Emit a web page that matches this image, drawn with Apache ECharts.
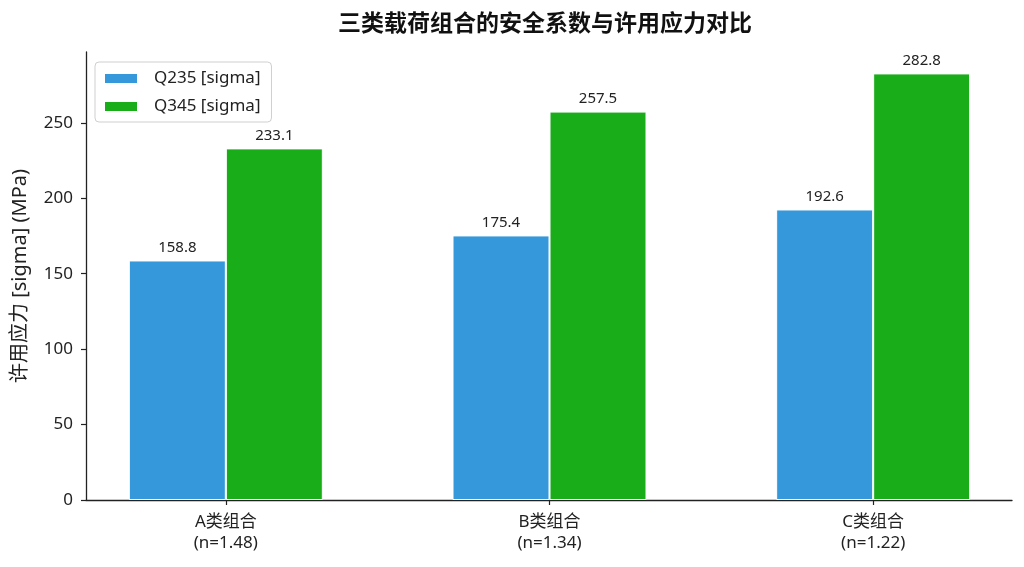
<!DOCTYPE html>
<html>
<head>
<meta charset="utf-8">
<script src="https://cdn.jsdelivr.net/npm/echarts@6/dist/echarts.min.js"></script>
<style>
html,body{margin:0;padding:0;background:#fff;overflow:hidden;width:1024px;height:567px;}
#main{width:1060px;height:567px;}
</style>
</head>
<body>
<div id="main"></div>
<script>
var categories = ['A类组合\n(n=1.48)', 'B类组合\n(n=1.34)', 'C类组合\n(n=1.22)'];
var seriesNames = ['Q235 [sigma]', 'Q345 [sigma]'];
var q235Values = [158.8, 175.4, 192.6];
var q345Values = [233.1, 257.5, 282.8];
var yTicks = [0, 50, 100, 150, 200, 250];
var yMax = 297;

var FONT = '"Noto Sans", "Noto Sans CJK SC", sans-serif';
var TXT = '#222';

var chart = echarts.init(document.getElementById('main'), null, {renderer: 'canvas'});
chart.setOption({
  backgroundColor: '#fff',
  animation: false,
  textStyle: {fontFamily: FONT},
  title: {
    text: '三类载荷组合的安全系数与许用应力对比',
    left: 338, top: 13, padding: 0,
    textStyle: {fontFamily: FONT, fontSize: 23, fontWeight: 'bold', color: '#111'}
  },
  legend: {
    orient: 'vertical',
    left: 95, top: 62,
    padding: [8, 11, 7, 8],
    icon: 'rect',
    itemWidth: 34, itemHeight: 11, itemGap: 11,
    borderColor: '#cfcfcf', borderWidth: 1, borderRadius: 4,
    backgroundColor: 'rgba(255,255,255,0.8)',
    textStyle: {fontFamily: FONT, fontSize: 17, color: TXT, lineHeight: 17, padding: [0, 0, 0, 11]},
    data: seriesNames
  },
  grid: [
    {left: 64, width: 971, top: 52, bottom: 67, containLabel: false},
    {left: 86, width: 926, top: 52, bottom: 67, containLabel: false}
  ],
  xAxis: [
    {
      type: 'category', gridIndex: 0, data: categories,
      axisLine: {show: false},
      axisTick: {show: true, alignWithLabel: true, length: 5, lineStyle: {color: TXT, width: 1.2}},
      axisLabel: {fontFamily: FONT, fontSize: 17, color: TXT, lineHeight: 21, margin: 12}
    },
    {
      type: 'value', gridIndex: 1, min: 0, max: 1,
      axisLine: {show: true, lineStyle: {color: TXT, width: 1.3}},
      axisTick: {show: false}, axisLabel: {show: false}, splitLine: {show: false}
    }
  ],
  yAxis: [
    {type: 'value', gridIndex: 0, min: 0, max: yMax, show: false, splitLine: {show: false}},
    {
      type: 'value', gridIndex: 1, min: 0, max: yMax,
      name: '许用应力 [sigma] (MPa)',
      nameLocation: 'middle', nameGap: 56,
      nameTextStyle: {fontFamily: FONT, fontSize: 20, color: TXT},
      axisLine: {show: true, lineStyle: {color: TXT, width: 1.3}},
      axisTick: {show: true, length: 5, customValues: yTicks, lineStyle: {color: TXT, width: 1.2}},
      axisLabel: {fontFamily: FONT, fontSize: 17, color: TXT, margin: 13, customValues: yTicks},
      splitLine: {show: false}
    }
  ],
  series: [
    {
      name: seriesNames[0], type: 'bar', xAxisIndex: 0, yAxisIndex: 0,
      data: q235Values, barWidth: 97, barGap: '0%',
      itemStyle: {color: '#3498db', borderColor: '#fff', borderWidth: 1},
      label: {show: true, position: 'top', distance: 5, fontFamily: FONT, fontSize: 15, color: TXT,
        formatter: function (p) { return p.value.toFixed(1); }}
    },
    {
      name: seriesNames[1], type: 'bar', xAxisIndex: 0, yAxisIndex: 0,
      data: q345Values, barWidth: 97, barGap: '0%',
      itemStyle: {color: '#1aad1a', borderColor: '#fff', borderWidth: 1},
      label: {show: true, position: 'top', distance: 5, fontFamily: FONT, fontSize: 15, color: TXT,
        formatter: function (p) { return p.value.toFixed(1); }}
    }
  ]
});
</script>
</body>
</html>
